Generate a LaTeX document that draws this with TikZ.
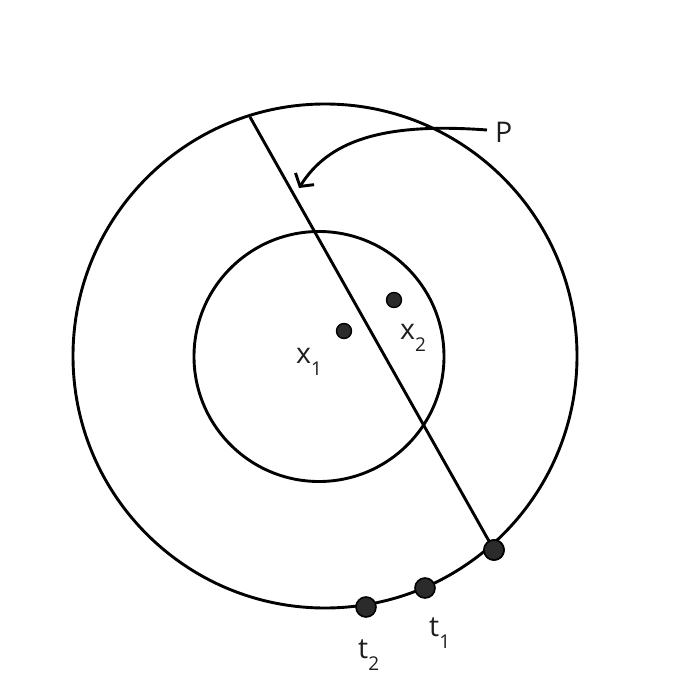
\documentclass[tikz,border=0pt]{standalone}
\usepackage{fontspec}
\setmainfont{Open Sans}
\usetikzlibrary{arrows.meta}
\definecolor{dotfill}{HTML}{2B2B2B}
\newcommand{\lbl}[2]{#1\raisebox{-12pt}{\fontsize{19}{19}\selectfont #2}}
\tikzset{
  ln/.style={line width=2.9pt, black},
  bigdot/.style={circle, draw=black, line width=1.6pt, fill=dotfill, minimum size=20pt, inner sep=0pt},
  smalldot/.style={circle, draw=black, line width=1.4pt, fill=dotfill, minimum size=15pt, inner sep=0pt},
  lab/.style={anchor=base west, inner sep=0pt, font=\fontsize{28.5}{30}\selectfont, text=black!88}
}
\begin{document}
\begin{tikzpicture}[x=1pt,y=-1pt]
\useasboundingbox (0,0) rectangle (695,695);
% circles
\draw[ln] (325,356) circle[radius=252];
\draw[ln] (319,356.5) circle[radius=125];
% chord
\coordinate (ctop) at (250,117);
\coordinate (pstart) at (487,130);
\coordinate (ptip) at (299,188);
\node[bigdot] (d1) at (494,550) {};
\draw[ln] (ctop) -- (d1.center);
\node[bigdot] (d1) at (494,550) {};
\node[bigdot] (d2) at (425,588) {};
\node[bigdot] (d3) at (366,607) {};
\node[smalldot] (s1) at (344,331) {};
\node[smalldot] (s2) at (394,300) {};
% P arrow
\draw[ln, -{Straight Barb[length=9pt,width=22pt,line width=2.9pt]}] (pstart) .. controls (380,122) and (328,142) .. (ptip);
% labels
\node[lab] (P) at (495,143) {P};
\node[lab] (x1) at (296,363) {\lbl{x}{1}};
\node[lab] (x2) at (400,339) {\lbl{x}{2}};
\node[lab] (t1) at (429,636) {\lbl{t}{1}};
\node[lab] (t2) at (358,658) {\lbl{t}{2}};
\end{tikzpicture}
\end{document}
